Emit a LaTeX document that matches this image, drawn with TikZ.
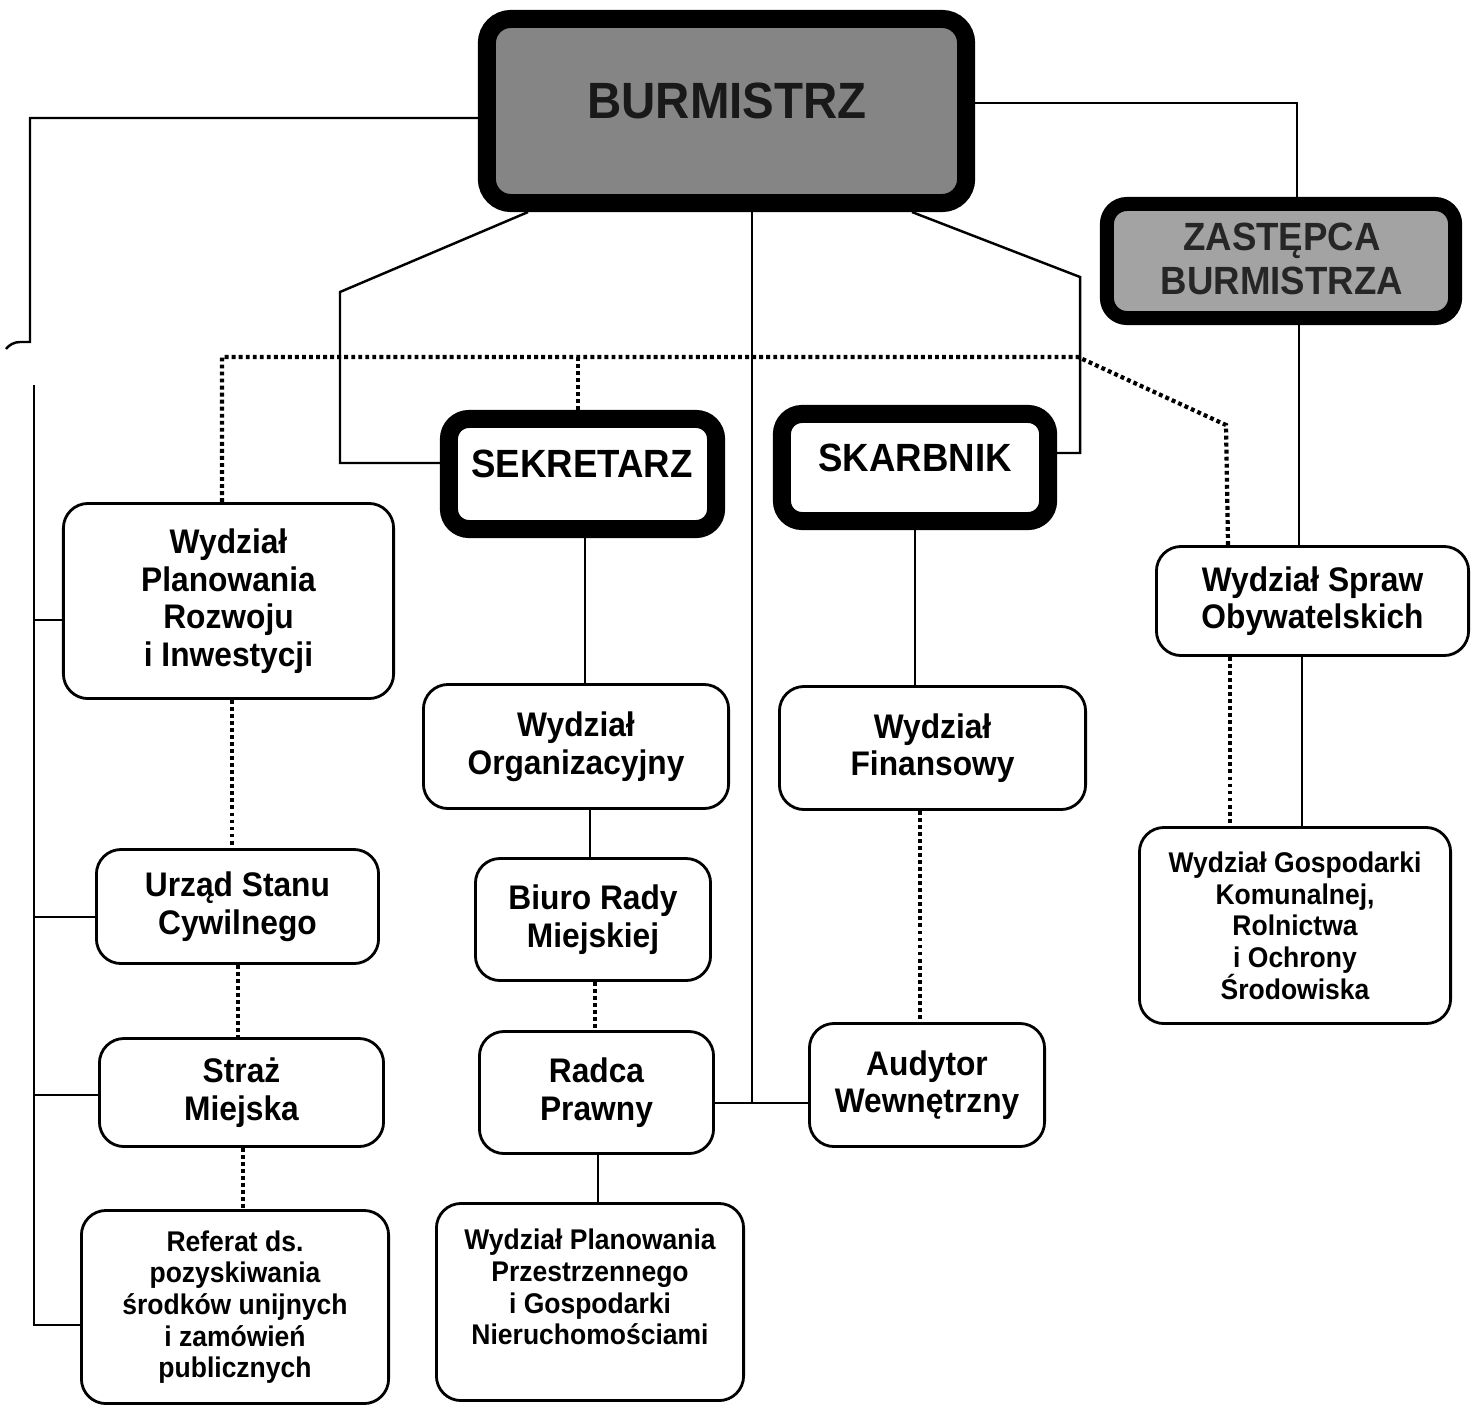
\documentclass[tikz,border=0pt]{standalone}
\usepackage{fontspec}
\setmainfont{Liberation Sans}[FakeStretch=0.93]
\usetikzlibrary{calc}

\newcommand\fnorm{\fontsize{9.7}{10.7}\selectfont\bfseries}
\newcommand\fsmall{\fontsize{8.1}{9.0}\selectfont\bfseries}
\newcommand\fbig{\fontsize{11.2}{12.5}\selectfont\bfseries}
\newcommand\fhuge{\fontsize{14.5}{16}\selectfont\bfseries}

\tikzset{
  unitbox/.style={draw, line width=0.8pt, rounded corners=7pt, fill=white,
    inner sep=0pt, align=center, font=\fnorm},
  smallbox/.style={unitbox, font=\fsmall},
  plaintext/.style={inner sep=0pt, align=center, font=\fsmall},
  headbox/.style={draw, line width=0.18cm, rounded corners=0.2cm, inner sep=0pt},
  headtext/.style={font=\fbig, align=center, inner sep=0pt},
  hugetext/.style={font=\fhuge, align=center, inner sep=0pt},
  conn/.style={line width=0.7pt},
  dotconn/.style={line width=1.2pt, dash pattern=on 1.1pt off 0.9pt},
}

\begin{document}
\begin{tikzpicture}[x=0.01cm,y=-0.01cm]
\useasboundingbox (0,0) rectangle (1480,1409);

% head boxes
\node[headbox, fill=black!48, minimum width=4.79cm, minimum height=1.84cm,
      rounded corners=0.24cm] (bur) at (726.5,111) {};
\node[headbox, fill=black!36, line width=0.14cm, minimum width=3.48cm,
      minimum height=1.14cm] (zas) at (1281,261) {};
\node[headbox, fill=white, minimum width=2.67cm, minimum height=1.10cm] (sek) at (582.5,474) {};
\node[headbox, fill=white, minimum width=2.66cm, minimum height=1.07cm] (ska) at (915,467.5) {};

\node[hugetext, text=black!90] (burT) at (727,101) {BURMISTRZ};
\node[headtext, text=black!85] (zasT) at (1282,259) {ZASTĘPCA\\BURMISTRZA};
\node[headtext] (sekT) at (582,464) {SEKRETARZ};
\node[headtext] (skaT) at (915,458) {SKARBNIK};

% unit boxes
\node[unitbox, minimum width=3.30cm, minimum height=1.95cm] (wpr) at (228.5,601)
  {Wydział\\Planowania\\Rozwoju\\i Inwestycji};
\node[unitbox, minimum width=2.82cm, minimum height=1.14cm] (usc) at (237.5,906.5)
  {Urząd Stanu\\Cywilnego};
\node[unitbox, minimum width=2.84cm, minimum height=1.08cm] (sm) at (241.5,1092.5)
  {Straż\\Miejska};
\node[smallbox, minimum width=3.07cm, minimum height=1.93cm] (ref) at (235,1307)
  {Referat ds.\\pozyskiwania\\środków unijnych\\i zamówień\\publicznych};
\node[unitbox, minimum width=3.05cm, minimum height=1.24cm] (wo) at (576,746.5)
  {Wydział\\Organizacyjny};
\node[unitbox, minimum width=2.35cm, minimum height=1.22cm] (brm) at (593,919.5)
  {Biuro Rady\\Miejskiej};
\node[unitbox, minimum width=2.34cm, minimum height=1.22cm] (rp) at (596.5,1092.5)
  {Radca\\Prawny};
\node[smallbox, minimum width=3.07cm, minimum height=1.97cm] (wpp) at (590,1302) {};
\node[plaintext] (wppT) at (590,1287)
  {Wydział Planowania\\Przestrzennego\\i Gospodarki\\Nieruchomościami};
\node[unitbox, minimum width=3.06cm, minimum height=1.23cm] (wf) at (932.5,748)
  {Wydział\\Finansowy};
\node[unitbox, minimum width=2.35cm, minimum height=1.23cm] (aw) at (927,1085)
  {Audytor\\Wewnętrzny};
\node[unitbox, minimum width=3.12cm, minimum height=1.09cm] (wso) at (1312.5,601)
  {Wydział Spraw\\Obywatelskich};
\node[smallbox, minimum width=3.11cm, minimum height=1.96cm] (wgk) at (1295,925.5)
  {Wydział Gospodarki\\Komunalnej,\\Rolnictwa\\i Ochrony\\Środowiska};

% solid connectors
\draw[conn] (bur.west |- 0,118) -- (30,118) -- (30,342) -- (20,342)
  .. controls (14,342) and (9,345) .. (6,349);
\draw[conn] (34,385) -- (34,1325) -- (ref.west |- 0,1325);
\draw[conn] (34,620) -- (wpr.west |- 0,620);
\draw[conn] (34,917) -- (usc.west |- 0,917);
\draw[conn] (34,1095) -- (sm.west |- 0,1095);

\draw[conn] (bur.east |- 0,103) -- (1297,103) -- (1297,0 |- zas.north);
\draw[conn] (1299,0 |- zas.south) -- (1299,0 |- wso.north);
\draw[conn] (1302,0 |- wso.south) -- (1302,0 |- wgk.north);

\draw[conn] (528,0 |- bur.south) -- (340,292) -- (340,463) -- (sek.west |- 0,463);
\draw[conn] (912,0 |- bur.south) -- (1080,277) -- (1080,453) -- (ska.east |- 0,453);
\draw[conn] (752,0 |- bur.south) -- (752,1103);
\draw[conn] (rp.east |- 0,1103) -- (aw.west |- 0,1103);

\draw[conn] (585,0 |- sek.south) -- (585,0 |- wo.north);
\draw[conn] (590,0 |- wo.south) -- (590,0 |- brm.north);
\draw[conn] (598,0 |- rp.south) -- (598,0 |- wpp.north);
\draw[conn] (915,0 |- ska.south) -- (915,0 |- wf.north);

% dotted connectors
\draw[dotconn] (222,0 |- wpr.north) -- (222,357) -- (1078,357) -- (1226,425)
  -- (1228,0 |- wso.north);
\draw[dotconn] (578,357) -- (578,0 |- sek.north);
\draw[dotconn] (1230,0 |- wso.south) -- (1230,0 |- wgk.north);
\draw[dotconn] (232,0 |- wpr.south) -- (232,0 |- usc.north);
\draw[dotconn] (238,0 |- usc.south) -- (238,0 |- sm.north);
\draw[dotconn] (243,0 |- sm.south) -- (243,0 |- ref.north);
\draw[dotconn] (595,0 |- brm.south) -- (595,0 |- rp.north);
\draw[dotconn] (920,0 |- wf.south) -- (920,0 |- aw.north);
\end{tikzpicture}
\end{document}
